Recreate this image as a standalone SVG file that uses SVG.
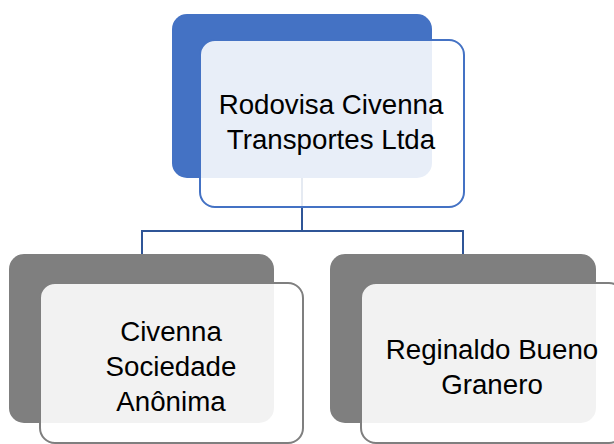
<svg xmlns="http://www.w3.org/2000/svg" width="614" height="444" viewBox="0 0 614 444">
<style>
.back-top{fill:#4472C4;}
.back-child{fill:#7F7F7F;}
.front-top{fill:#FFFFFF;fill-opacity:0.88;stroke:#4472C4;stroke-width:2;}
.front-child{fill:#FFFFFF;fill-opacity:0.9;stroke:#7F7F7F;stroke-width:2;}
.conn{fill:none;stroke:#2F5597;stroke-width:2;}
text{font-family:"Liberation Sans",Arial,sans-serif;font-size:27.7px;fill:#000000;text-anchor:middle;}
</style>
<rect width="614" height="444" fill="#FFFFFF"/>
<g id="connectors">
<path class="conn" d="M302,178 V231 H142 V254"/>
<path class="conn" d="M302,231 H463 V254"/>
</g>
<g id="node-rodovisa">
<rect class="back-top" x="172" y="14" width="260" height="164" rx="15" ry="15"/>
<rect class="front-top" x="200" y="40" width="264" height="167" rx="15" ry="15"/>
<text x="331" y="114">Rodovisa Civenna</text>
<text x="331" y="149">Transportes Ltda</text>
</g>
<g id="node-civenna">
<rect class="back-child" x="9" y="254" width="265" height="169" rx="15" ry="15"/>
<rect class="front-child" x="40" y="283" width="263" height="160" rx="15" ry="15"/>
<text x="171" y="341">Civenna</text>
<text x="171" y="376">Sociedade</text>
<text x="171" y="411">Anônima</text>
</g>
<g id="node-reginaldo">
<rect class="back-child" x="330" y="254" width="266" height="169" rx="15" ry="15"/>
<rect class="front-child" x="361" y="283" width="263" height="160" rx="15" ry="15"/>
<text x="492" y="359">Reginaldo Bueno</text>
<text x="492" y="394">Granero</text>
</g>
</svg>
